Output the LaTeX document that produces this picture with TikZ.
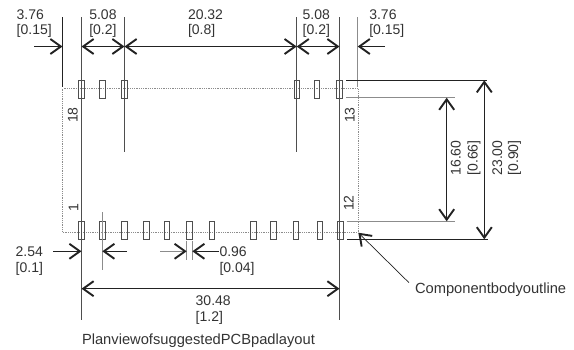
\documentclass[tikz,border=0pt]{standalone}
\usepackage{fontspec}
\setmainfont{Liberation Sans}
\usetikzlibrary{arrows.meta}
\definecolor{ink}{HTML}{222222}
\definecolor{txt}{HTML}{333333}
\definecolor{soft}{HTML}{8C8C8C}
\tikzset{
  x=1pt,y=-1pt,
  padbox/.style={draw=ink!80,line width=0.6pt,minimum width=5.7pt,minimum height=18.5pt,inner sep=0,outer sep=0},
  ext/.style={draw=ink!80,line width=0.9pt},
  extsoft/.style={draw=soft,line width=1.1pt},
  extblack/.style={draw=ink,line width=1.1pt},
  barb/.tip={Straight Barb[length=10.5pt,width=15pt,line width=1.9pt]},
  dimline/.style={draw=ink,line width=1pt},
  lbl/.style={font=\fontsize{14}{15}\selectfont,text=txt,inner sep=0,outer sep=0,anchor=base west},
  caplbl/.style={font=\fontsize{14.7}{15}\selectfont,text=txt,inner sep=0,outer sep=0,anchor=base west},
  vlbl/.style={font=\fontsize{14}{15}\selectfont,text=txt,inner sep=0,outer sep=0,anchor=base,rotate=90},
}
\begin{document}
\begin{tikzpicture}
\useasboundingbox (0,0) rectangle (574,349);
% body outline
\draw[draw=soft,line width=0.8pt,densely dotted] (62.7,88.5) rectangle (358,232.3);
% pads
\foreach \n/\x in {a/81.5,b/102.5,c/124.5,d/296.7,e/316.7,f/339.5}
  \node[padbox] (t\n) at (\x,89.4) {};
\foreach \n/\x in {a/81.5,b/102.3,c/124.3,d/146.3,e/166.7,f/189.3,g/211.7,h/253.3,i/273.3,j/295.7,k/319.7,l/340}
  \node[padbox] (p\n) at (\x,230.4) {};
% extension line ends
\coordinate (v0a) at (62.5,17);   \coordinate (v0b) at (62.5,87);
\coordinate (v1a) at (81.5,17);   \coordinate (v1b) at (81.5,320);
\coordinate (v2a) at (124.5,17);  \coordinate (v2b) at (124.5,152);
\coordinate (v3a) at (296.7,17);  \coordinate (v3b) at (296.7,152);
\coordinate (v4a) at (339.5,17);  \coordinate (v4b) at (339.5,320);
\coordinate (v5a) at (357.7,17);  \coordinate (v5b) at (357.7,87);
\coordinate (v6a) at (102.3,212); \coordinate (v6b) at (102.3,270);
\coordinate (v7a) at (186.7,240.7); \coordinate (v7b) at (186.7,260);
\coordinate (v8a) at (192.3,240.7); \coordinate (v8b) at (192.3,260);
\draw[extblack] (v0a) -- (v0b);
\draw[ext] (v1a) -- (v1b);
\draw[ext] (v2a) -- (v2b);
\draw[ext] (v3a) -- (v3b);
\draw[ext] (v4a) -- (v4b);
\draw[extsoft] (v5a) -- (v5b);
\draw[extsoft] (v6a) -- (v6b);
\draw[extsoft] (v7a) -- (v7b);
\draw[extsoft] (v8a) -- (v8b);
% horizontal extension lines
\coordinate (h1a) at (346,80.3);  \coordinate (h1b) at (487,80.3);
\coordinate (h2a) at (346,97.7);  \coordinate (h2b) at (455,97.7);
\coordinate (h3a) at (346.7,221.3); \coordinate (h3b) at (455,221.3);
\coordinate (h4a) at (347,239.3); \coordinate (h4b) at (487.7,239.3);
\draw[extblack] (h1a) -- (h1b);
\draw[extsoft,line width=1.3pt] (h2a) -- (h2b);
\draw[extsoft] (h3a) -- (h3b);
\draw[extblack] (h4a) -- (h4b);
% top dimensions
\coordinate (d0) at (34,46.5);
\coordinate (d1) at (62.5,46.5);
\coordinate (d2) at (81.5,46.5);
\coordinate (d3) at (124.5,46.5);
\coordinate (d4) at (296.7,46.5);
\coordinate (d5) at (339.5,46.5);
\coordinate (d6) at (357.7,46.5);
\coordinate (d7) at (385,46.5);
\draw[dimline,-{barb}] (d0) -- (d1);
\draw[dimline,{barb}-{barb}] (d2) -- (d3);
\draw[dimline,{barb}-{barb}] (d3) -- (d4);
\draw[dimline,{barb}-{barb}] (d4) -- (d5);
\draw[dimline,-{barb}] (d7) -- (d6);
% right dimensions
\coordinate (r1a) at (446.7,97.7);  \coordinate (r1b) at (446.7,221.3);
\coordinate (r2a) at (484.3,80.3);  \coordinate (r2b) at (484.3,239.3);
\draw[dimline,{barb}-{barb}] (r1a) -- (r1b);
\draw[dimline,{barb}-{barb}] (r2a) -- (r2b);
% lower dimensions
\coordinate (l0) at (53,251.3);   \coordinate (l1) at (81.5,251.3);
\coordinate (l2) at (127,251.3);  \coordinate (l3) at (102.3,251.3);
\coordinate (l4) at (160,251.3);  \coordinate (l5) at (186.7,251.3);
\coordinate (l6) at (219,251.3);  \coordinate (l7) at (192.3,251.3);
\draw[dimline,-{barb}] (l0) -- (l1);
\draw[dimline,-{barb}] (l2) -- (l3);
\draw[extsoft,-{barb[color=ink]}] (l4) -- (l5);
\draw[dimline,-{barb}] (l6) -- (l7);
\coordinate (w1) at (81.5,288.7); \coordinate (w2) at (339.5,288.7);
\draw[dimline,{barb}-{barb}] (w1) -- (w2);
% labels
\node[lbl] (t1) at (16.7,19) {3.76};   \node[lbl] (t1b) at (16.7,34) {[0.15]};
\node[lbl] (t2) at (89.3,19) {5.08};   \node[lbl] (t2b) at (89.3,34) {[0.2]};
\node[lbl] (t3) at (188,19) {20.32};   \node[lbl] (t3b) at (188,34) {[0.8]};
\node[lbl] (t4) at (302.7,19) {5.08};  \node[lbl] (t4b) at (302.7,34) {[0.2]};
\node[lbl] (t5) at (369.3,19) {3.76};  \node[lbl] (t5b) at (369.3,34) {[0.15]};
\node[lbl] (t6) at (15.7,256) {2.54};  \node[lbl] (t6b) at (15.7,272) {[0.1]};
\node[lbl] (t7) at (219.5,256) {0.96}; \node[lbl] (t7b) at (219.5,272) {[0.04]};
\node[lbl] (t8) at (195.7,305) {30.48};\node[lbl] (t8b) at (195.7,321) {[1.2]};
\node[vlbl] (t9) at (460.5,158) {16.60};  \node[vlbl] (t9b) at (477.5,158) {[0.66]};
\node[vlbl] (t10) at (502,158) {23.00};   \node[vlbl] (t10b) at (518,158) {[0.90]};
\node[vlbl] (n18) at (77.7,115) {18};
\node[vlbl] (n13) at (354.7,115) {13};
\node[vlbl] (n1) at (78.3,208) {1};
\node[vlbl] (n12) at (353.7,203) {12};
\node[caplbl] (cap) at (415,293) {Componentbodyoutline};
\node[caplbl] (plan) at (82,344) {PlanviewofsuggestedPCBpadlayout};
% leader
\coordinate (lead1) at (409,282.7);
\coordinate (lead2) at (358.3,232.7);
\draw[ink,line width=0.7pt,-{barb}] (lead1) -- (lead2);
\end{tikzpicture}
\end{document}
